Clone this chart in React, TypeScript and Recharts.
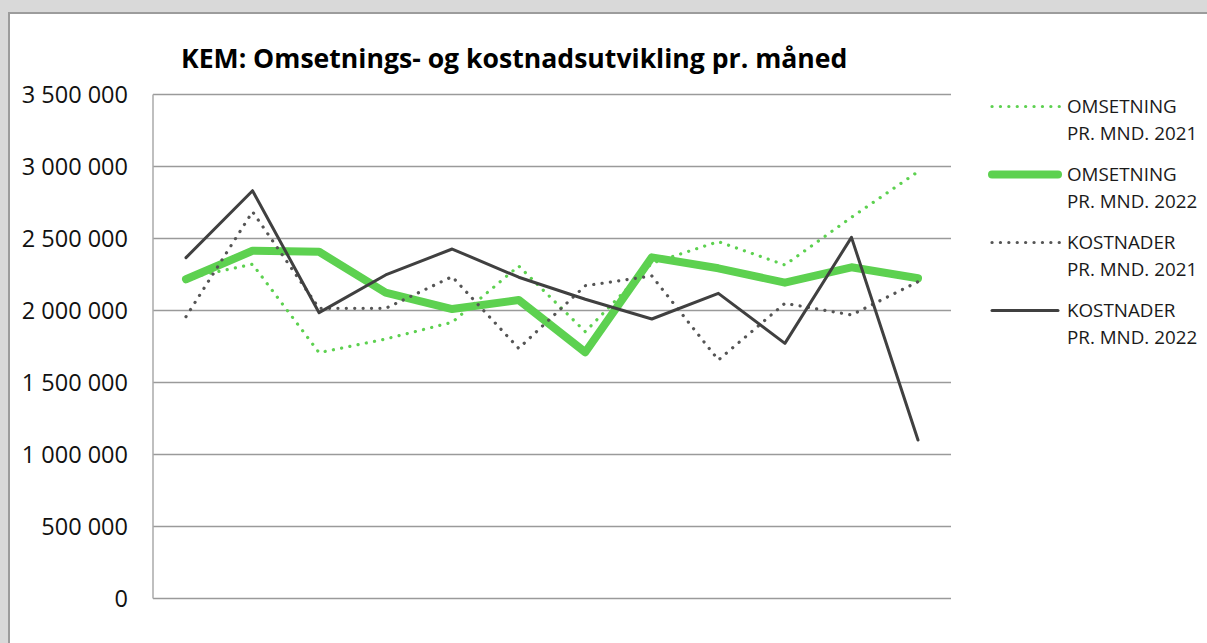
import React from 'react';
import { LineChart, Line, XAxis, YAxis, CartesianGrid, Legend } from 'recharts';

const months = ['Jan', 'Feb', 'Mar', 'Apr', 'Mai', 'Jun', 'Jul', 'Aug', 'Sep', 'Okt', 'Nov', 'Des'];
const oms2021 = [2224000, 2321000, 1707000, 1802000, 1918000, 2309000, 1853000, 2328000, 2478000, 2316000, 2647000, 2964000];
const oms2022 = [2217000, 2415000, 2408000, 2124000, 2010000, 2073000, 1710000, 2369000, 2293000, 2193000, 2300000, 2224000];
const kost2021 = [1957000, 2686000, 2015000, 2015000, 2235000, 1737000, 2172000, 2240000, 1656000, 2050000, 1969000, 2200000];
const kost2022 = [2367000, 2832000, 1985000, 2247000, 2427000, 2231000, 2078000, 1941000, 2119000, 1772000, 2508000, 1101000];
const yTicks = [0, 500000, 1000000, 1500000, 2000000, 2500000, 3000000, 3500000];

const title = 'KEM: Omsetnings- og kostnadsutvikling pr. måned';

const series = [
  { key: 'oms2021', line1: 'OMSETNING', line2: 'PR. MND. 2021', color: '#5dd150', width: 3.2, dash: '0.1 8.3' },
  { key: 'oms2022', line1: 'OMSETNING', line2: 'PR. MND. 2022', color: '#5dd150', width: 8, dash: undefined },
  { key: 'kost2021', line1: 'KOSTNADER', line2: 'PR. MND. 2021', color: '#555555', width: 3.2, dash: '0.1 8.3' },
  { key: 'kost2022', line1: 'KOSTNADER', line2: 'PR. MND. 2022', color: '#404040', width: 3, dash: undefined },
];

const data = months.map((m, i) => ({
  month: m,
  oms2021: oms2021[i],
  oms2022: oms2022[i],
  kost2021: kost2021[i],
  kost2022: kost2022[i],
}));

const fmt = (v: number) => String(v).replace(/\B(?=(\d{3})+(?!\d))/g, ' ');

const FONT = '"Open Sans", "Liberation Sans", sans-serif';

const LegendContent = () => (
  <div style={{ position: 'absolute', left: 978, top: 78.5, fontFamily: FONT, fontSize: 18.8, color: '#1a1a1a' }}>
    {series.map((s) => (
      <div key={s.key} style={{ display: 'flex', alignItems: 'flex-start', height: 68, whiteSpace: 'nowrap' }}>
        <svg width={79} height={27} style={{ display: 'block' }}>
          <line
            x1={4}
            y1={13.5}
            x2={s.dash ? 72 : 70}
            y2={13.5}
            stroke={s.color}
            strokeWidth={s.width}
            strokeDasharray={s.dash}
            strokeLinecap="round"
          />
        </svg>
        <div style={{ lineHeight: '27px' }}>
          <div>{s.line1}</div>
          <div>{s.line2}</div>
        </div>
      </div>
    ))}
  </div>
);

export default function App() {
  return (
    <div style={{ position: 'fixed', left: 0, top: 0, width: 1207, height: 643, background: '#d9d9d9', overflow: 'hidden' }}>
      <div
        style={{
          position: 'absolute',
          left: 8,
          top: 12,
          width: 1199,
          height: 631,
          background: '#ffffff',
          borderLeft: '2px solid #9c9c9c',
          borderTop: '2px solid #9c9c9c',
          boxSizing: 'border-box',
        }}
      >
        <LineChart
          width={1197}
          height={629}
          data={data}
          margin={{ top: 80.5, right: 256, bottom: 44.5, left: 0 }}
        >
          <CartesianGrid horizontal={true} vertical={false} stroke="#9a9a9a" strokeWidth={1.3} />
          <XAxis
            dataKey="month"
            tick={false}
            tickLine={false}
            height={0}
            padding={{ left: 33, right: 33 }}
            axisLine={{ stroke: '#aaaaaa', strokeWidth: 1.5 }}
          />
          <YAxis
            width={143}
            domain={[0, 3500000]}
            ticks={yTicks}
            interval={0}
            tickFormatter={fmt}
            tickLine={false}
            tickSize={0}
            tickMargin={25}
            axisLine={{ stroke: '#aaaaaa', strokeWidth: 1.5 }}
            tick={{ fill: '#111111', fontSize: 23.5, fontFamily: FONT }}
          />
          <Legend
            layout="vertical"
            align="right"
            verticalAlign="top"
            content={<LegendContent />}
            wrapperStyle={{ left: 0, top: 0, width: 0, height: 0, overflow: 'visible' }}
          />
          {series.map((s) => (
            <Line
              key={s.key}
              type="linear"
              dataKey={s.key}
              stroke={s.color}
              strokeWidth={s.width}
              strokeDasharray={s.dash}
              strokeLinecap="round"
              strokeLinejoin="round"
              dot={false}
              activeDot={false}
              isAnimationActive={false}
            />
          ))}
        </LineChart>
      </div>
      <div
        style={{
          position: 'absolute',
          left: 181,
          top: 41,
          fontFamily: FONT,
          fontWeight: 700,
          fontSize: 26.6,
          lineHeight: '34px',
          color: '#000000',
          whiteSpace: 'nowrap',
        }}
      >
        {title}
      </div>
    </div>
  );
}
